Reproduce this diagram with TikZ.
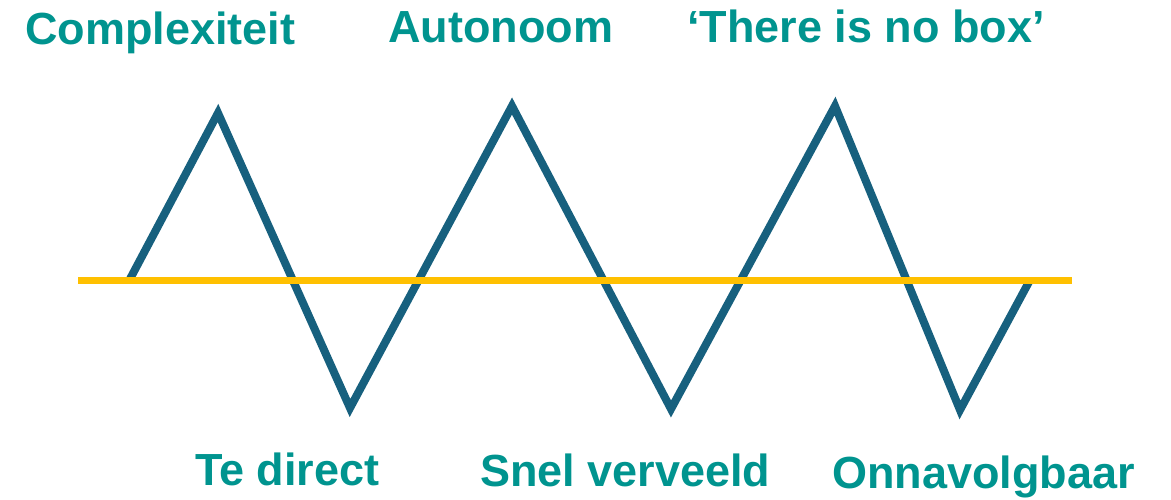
\documentclass[tikz,border=0pt]{standalone}
\usepackage{fontspec}
\setmainfont{Liberation Sans}
\definecolor{labelteal}{HTML}{00948F}
\definecolor{wavecol}{HTML}{17607E}
\definecolor{axiscol}{HTML}{FFC000}
\begin{document}
\begin{tikzpicture}[x=1pt,y=-1pt,
  lbl/.style={anchor=base west,inner sep=0pt,text=labelteal,font=\fontsize{45}{50}\selectfont\bfseries},
  wave/.style={draw=wavecol,line width=8pt,line join=miter},
  axis/.style={draw=axiscol,line width=7pt}]
\useasboundingbox (0,0) rectangle (1171,500);
% zigzag vertices
\coordinate (w0) at (130,279);
\coordinate (w1) at (218,113);
\coordinate (w2) at (350,408);
\coordinate (w3) at (512,106);
\coordinate (w4) at (671,409);
\coordinate (w5) at (835,106);
\coordinate (w6) at (960,410);
\coordinate (w7) at (1030,280);
\coordinate (a0) at (78,280);
\coordinate (a1) at (1072,280);
\draw[wave] (w0) -- (w1) -- (w2) -- (w3) -- (w4) -- (w5) -- (w6) -- (w7);
\draw[axis] (a0) -- (a1);
% labels above the peaks
\node[lbl] (t1) at (25,45) {Complexiteit};
\node[lbl] (t2) at (388,43) {Autonoom};
\node[lbl] (t3) at (687,43) {‘There is no box’};
% labels below the troughs
\node[lbl] (b1) at (195,485) {Te direct};
\node[lbl] (b2) at (480,486) {Snel verveeld};
\node[lbl] (b3) at (832,488) {Onnavolgbaar};
\end{tikzpicture}
\end{document}
